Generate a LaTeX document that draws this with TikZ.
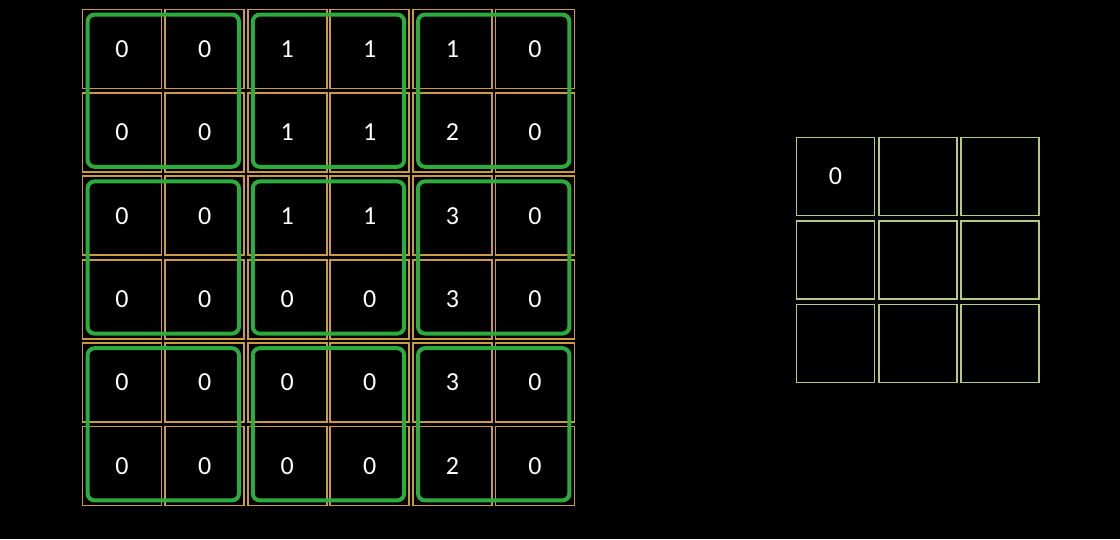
\documentclass[tikz,border=0pt]{standalone}
\usepackage{fontspec}
\setmainfont{Carlito}
\usepackage{tikz}
\usetikzlibrary{fit}
\definecolor{cGold}{RGB}{204,154,66}
\definecolor{cPool}{RGB}{44,172,60}
\definecolor{cOut}{RGB}{184,200,128}

\tikzset{
    cell/.style={draw=cGold, line width=1.8pt, minimum size=79pt, inner sep=0pt,
                 text=white, font=\fontsize{26}{30}\selectfont},
    outcell/.style={draw=cOut, line width=1.8pt, minimum size=78pt, inner sep=0pt,
                 text=white, font=\fontsize{26}{30}\selectfont},
    poolbox/.style={draw=cPool, line width=4pt, rounded corners=7pt, inner sep=-6pt}
}

\begin{document}
\begin{tikzpicture}[x=1pt, y=-1pt]
    % Background
    \fill[black] (0,0) rectangle (1120,539);
    \useasboundingbox (0,0) rectangle (1120,539);

    % Input feature map
    \foreach \row/\vals in {0/{0,0,1,1,1,0}, 1/{0,0,1,1,2,0}, 2/{0,0,1,1,3,0},
                            3/{0,0,0,0,3,0}, 4/{0,0,0,0,3,0}, 5/{0,0,0,0,2,0}} {
        \foreach \v [count=\col from 0] in \vals {
            \node[cell] (c-\row-\col) at (122+82.6*\col, 49+83.4*\row) {\v};
        }
    }

    % Pooling windows
    \foreach \bi in {0,1,2} {
        \foreach \bj in {0,1,2} {
            \pgfmathtruncatemacro{\ra}{2*\bi}
            \pgfmathtruncatemacro{\rb}{2*\bi+1}
            \pgfmathtruncatemacro{\ca}{2*\bj}
            \pgfmathtruncatemacro{\cb}{2*\bj+1}
            \node[poolbox, fit=(c-\ra-\ca)(c-\rb-\cb)] (p-\bi-\bj) {};
        }
    }

    % Output map
    \foreach \row in {0,1,2} {
        \foreach \col in {0,1,2} {
            \node[outcell] (o-\row-\col) at (835.5+82.2*\col, 176.5+83.5*\row) {};
        }
    }
    \node[text=white, font=\fontsize{26}{30}\selectfont] at (o-0-0) {0};
\end{tikzpicture}
\end{document}
